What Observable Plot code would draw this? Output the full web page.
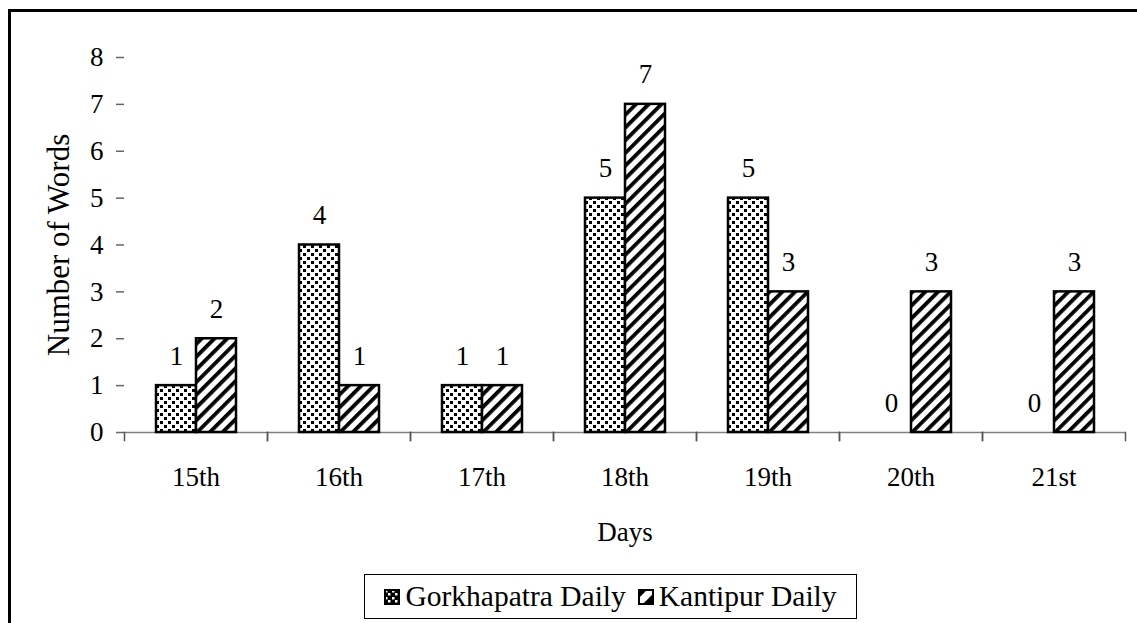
<!DOCTYPE html>
<html>
<head>
<meta charset="utf-8">
<script src="https://cdn.jsdelivr.net/npm/d3@7"></script>
<script src="https://cdn.jsdelivr.net/npm/@observablehq/plot@0.6"></script>
<style>
  html, body { margin: 0; padding: 0; background: #fff; }
  body { width: 1137px; height: 623px; overflow: hidden; position: relative; font-family: "Liberation Serif", "Times New Roman", serif; }
  #frame { position: absolute; left: 8px; top: 9px; width: 1200px; height: 700px; border: 3px solid #000; pointer-events: none; }
  #chart { position: absolute; left: 0; top: 0; }
  #legend { position: absolute; left: 364px; top: 574px; width: 493px; height: 45px; border: 1px solid #000; box-sizing: border-box;
            display: flex; align-items: center; justify-content: center; font-size: 29.5px; color: #000; gap: 12px; white-space: nowrap; }
  #legend .item { display: flex; align-items: center; gap: 5px; }
  #legend svg { display: block; }
</style>
</head>
<body>
<svg width="0" height="0" style="position:absolute">
  <defs>
    <pattern id="dots" patternUnits="userSpaceOnUse" width="8" height="8">
      <rect width="8" height="8" fill="#fff"/>
      <rect x="1" y="1" width="3" height="3" fill="#000"/>
      <rect x="5" y="5" width="3" height="3" fill="#000"/>
    </pattern>
    <pattern id="stripes" patternUnits="userSpaceOnUse" width="9" height="9" patternTransform="rotate(45)">
      <rect width="9" height="9" fill="#fff"/>
      <rect x="0" y="0" width="3.8" height="9" fill="#000"/>
    </pattern>
    <pattern id="dotsBig" patternUnits="userSpaceOnUse" width="7" height="7">
      <rect width="7" height="7" fill="#000"/>
      <rect x="1" y="1" width="2.5" height="2.5" fill="#fff"/>
      <rect x="4" y="4" width="2.5" height="2.5" fill="#fff"/>
    </pattern>
    <pattern id="stripeBig" patternUnits="userSpaceOnUse" width="14" height="14" patternTransform="rotate(45)">
      <rect width="14" height="14" fill="#fff"/>
      <rect x="0" y="0" width="7" height="14" fill="#000"/>
    </pattern>
  </defs>
</svg>
<div id="frame"></div>
<div id="chart"></div>
<div id="legend"></div>
<script>
const days = ["15th", "16th", "17th", "18th", "19th", "20th", "21st"];
const seriesNames = ["Gorkhapatra Daily", "Kantipur Daily"];
const gorkhapatra = [1, 4, 1, 5, 5, 0, 0];
const kantipur = [2, 1, 1, 7, 3, 3, 3];
const yTicks = [0, 1, 2, 3, 4, 5, 6, 7, 8];
const patterns = ["url(#dots)", "url(#stripes)"];

const rows = [];
days.forEach((d, i) => {
  rows.push({day: d, series: seriesNames[0], value: gorkhapatra[i]});
  rows.push({day: d, series: seriesNames[1], value: kantipur[i]});
});

const plotHeight = 560, mTop = 57, mBottom = 128;
const innerH = plotHeight - mTop - mBottom;
const FS = 27;

const chart = Plot.plot({
  width: 1137,
  height: plotHeight,
  marginLeft: 121,
  marginRight: 10,
  marginTop: mTop,
  marginBottom: mBottom,
  style: {fontFamily: "'Liberation Serif', 'Times New Roman', serif", fontSize: FS + "px", color: "#000", background: "transparent"},
  fx: {domain: days, padding: 0},
  x: {domain: seriesNames, paddingInner: 0, paddingOuter: 0.75, axis: null},
  y: {domain: [0, 8]},
  marks: [
    Plot.ruleY([0], {stroke: "#808080", strokeWidth: 1.5}),
    Plot.frame({anchor: "left", insetTop: innerH, insetBottom: -8, stroke: "#555", strokeWidth: 1.5}),
    Plot.frame({anchor: "right", insetTop: innerH, insetBottom: -8, stroke: "#555", strokeWidth: 1.5}),
    Plot.barY(rows.filter(r => r.series === seriesNames[0] && r.value > 0), {fx: "day", x: "series", y: "value", fill: patterns[0], stroke: "#000", strokeWidth: 2.5}),
    Plot.barY(rows.filter(r => r.series === seriesNames[1] && r.value > 0), {fx: "day", x: "series", y: "value", fill: patterns[1], stroke: "#000", strokeWidth: 2.5}),
    Plot.text(rows, {fx: "day", x: "series", y: "value", text: d => String(d.value), dy: -21, lineAnchor: "bottom", fontSize: FS, fill: "#000"}),
    Plot.axisY({ticks: yTicks, tickSize: 8, tickPadding: 13, line: true, stroke: "#666", strokeWidth: 1.5, fontSize: FS, fill: "#000", label: null}),
    Plot.axisY({ticks: [], tickSize: 0, fontSize: 31, fill: "#000",
                label: "Number of Words", labelAnchor: "center", labelArrow: "none", labelOffset: 78}),
    Plot.axisFx({anchor: "bottom", tickSize: 0, tickPadding: 34, fontSize: FS, fill: "#000",
                 label: "Days", labelAnchor: "center", labelArrow: "none", labelOffset: 108})
  ]
});
document.getElementById("chart").appendChild(chart);

// legend
const legend = document.getElementById("legend");
const swatchFills = ["url(#dotsBig)", "url(#stripeBig)"];
seriesNames.forEach((name, i) => {
  const item = document.createElement("div");
  item.className = "item";
  item.innerHTML = `<svg width="16" height="16"><rect x="1" y="1" width="14" height="14" fill="${swatchFills[i]}" stroke="#000" stroke-width="2"/></svg><span>${name}</span>`;
  legend.appendChild(item);
});
</script>
</body>
</html>
